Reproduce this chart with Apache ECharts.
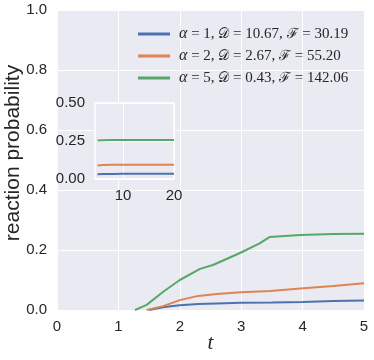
<!DOCTYPE html>
<html>
<head>
<meta charset="utf-8">
<script src="https://cdn.jsdelivr.net/npm/echarts@6/dist/echarts.min.js"></script>
<style>
  html, body { margin: 0; padding: 0; background: #fff; }
  #chart { width: 374px; height: 360px; }
</style>
</head>
<body>
<div id="chart"></div>
<script>
// main panel, t in [0, 5]
const blueT = [1.50, 1.75, 2.00, 2.30, 2.60, 3.00, 3.50, 4.00, 4.50, 5.00];
const blueV = [0.000, 0.010, 0.016, 0.020, 0.022, 0.024, 0.025, 0.027, 0.030, 0.032];
const orangeT = [1.46, 1.73, 2.00, 2.30, 2.60, 3.00, 3.47, 3.96, 4.50, 5.00];
const orangeV = [0.000, 0.013, 0.033, 0.047, 0.053, 0.059, 0.063, 0.072, 0.080, 0.089];
const greenT = [1.27, 1.46, 1.73, 2.00, 2.33, 2.54, 2.98, 3.30, 3.46, 3.96, 4.50, 5.00];
const greenV = [0.000, 0.017, 0.061, 0.100, 0.137, 0.150, 0.190, 0.222, 0.243, 0.250, 0.253, 0.254];

// inset, t in [5, 20]
const insetT = [5, 6, 8, 10, 12, 14, 16, 18, 20];
const insetBlue = [0.032, 0.033, 0.033, 0.034, 0.034, 0.034, 0.034, 0.034, 0.034];
const insetOrange = [0.089, 0.092, 0.093, 0.094, 0.094, 0.094, 0.094, 0.094, 0.094];
const insetGreen = [0.254, 0.255, 0.256, 0.256, 0.256, 0.256, 0.256, 0.256, 0.256];

const alphas = ['1', '2', '5'];
const dValues = ['10.67', '2.67', '0.43'];
const fValues = ['30.19', '55.20', '142.06'];
const labels = alphas.map((a, i) => 'a' + a + ' D' + dValues[i] + ' F' + fValues[i]);
const colors = ['#4C72B0', '#DD8452', '#55A868'];

const zip = (a, b) => a.map((x, i) => [x, b[i]]);

const sans = 'Liberation Sans, Arial, sans-serif';
const serif = 'Liberation Serif, DejaVu Serif, serif';
const tickFont = { color: '#262626', fontSize: 15, fontFamily: sans };
const white = { lineStyle: { color: '#ffffff', width: 1 } };

const chart = echarts.init(document.getElementById('chart'));
chart.setOption({
  animation: false,
  color: colors,
  legend: {
    data: labels,
    left: 133,
    top: 21,
    orient: 'vertical',
    itemWidth: 32,
    itemHeight: 3,
    itemGap: 6,
    icon: 'rect',
    formatter: name => {
      const i = labels.indexOf(name);
      return '{i|α}{n| = ' + alphas[i] + ', }{c|𝒟}{n| = ' + dValues[i] + ', }{c|ℱ}{n| = ' + fValues[i] + '}';
    },
    textStyle: {
      padding: [0, 0, 0, 4],
      rich: {
        i: { fontFamily: serif, fontStyle: 'italic', fontSize: 16, color: '#262626', lineHeight: 16 },
        n: { fontFamily: serif, fontSize: 15, color: '#262626', lineHeight: 16 },
        c: { fontFamily: 'DejaVu Serif, serif', fontSize: 14, color: '#262626', lineHeight: 16 }
      }
    }
  },
  grid: [
    { left: 57, right: 10, top: 10, bottom: 50, show: true, backgroundColor: '#EAEAF2', borderWidth: 0, outerBoundsMode: 'none' },
    { left: 95, width: 79, top: 103, height: 76, show: true, backgroundColor: '#EAEAF2', borderColor: '#ffffff', borderWidth: 1.5, z: 5, outerBoundsMode: 'none' }
  ],
  xAxis: [
    {
      gridIndex: 0, type: 'value', min: 0, max: 5, interval: 1,
      name: 't', nameLocation: 'middle', nameGap: 23, nameMoveOverlap: false,
      nameTextStyle: { fontFamily: serif, fontStyle: 'italic', fontSize: 21, color: '#262626' },
      axisLine: { show: false }, axisTick: { show: false },
      axisLabel: Object.assign({ margin: 9 }, tickFont),
      splitLine: white
    },
    {
      gridIndex: 1, type: 'value', min: 4.5, max: 20,
      axisLine: { show: false }, axisTick: { show: false, customValues: [10, 20] },
      axisLabel: Object.assign({ margin: 9, customValues: [10, 20] }, tickFont),
      splitLine: white, z: 6
    }
  ],
  yAxis: [
    {
      gridIndex: 0, type: 'value', min: 0, max: 1, interval: 0.2,
      name: 'reaction probability', nameLocation: 'middle', nameGap: 33, nameMoveOverlap: false,
      nameTextStyle: { fontFamily: sans, fontSize: 21, color: '#262626', padding: [0, 0, 0, 14] },
      axisLine: { show: false }, axisTick: { show: false },
      axisLabel: Object.assign({ margin: 10, formatter: v => v.toFixed(1) }, tickFont),
      splitLine: white
    },
    {
      gridIndex: 1, type: 'value', min: 0, max: 0.5, interval: 0.25,
      axisLine: { show: false }, axisTick: { show: false },
      axisLabel: Object.assign({ margin: 10, formatter: v => v.toFixed(2) }, tickFont),
      splitLine: white, z: 6
    }
  ],
  series: [
    { name: labels[0], type: 'line', xAxisIndex: 0, yAxisIndex: 0, data: zip(blueT, blueV), showSymbol: false, lineStyle: { width: 2 } },
    { name: labels[1], type: 'line', xAxisIndex: 0, yAxisIndex: 0, data: zip(orangeT, orangeV), showSymbol: false, lineStyle: { width: 2 } },
    { name: labels[2], type: 'line', xAxisIndex: 0, yAxisIndex: 0, data: zip(greenT, greenV), showSymbol: false, lineStyle: { width: 2 } },
    { name: labels[0], type: 'line', xAxisIndex: 1, yAxisIndex: 1, data: zip(insetT, insetBlue), showSymbol: false, lineStyle: { width: 2 }, z: 7 },
    { name: labels[1], type: 'line', xAxisIndex: 1, yAxisIndex: 1, data: zip(insetT, insetOrange), showSymbol: false, lineStyle: { width: 2 }, z: 7 },
    { name: labels[2], type: 'line', xAxisIndex: 1, yAxisIndex: 1, data: zip(insetT, insetGreen), showSymbol: false, lineStyle: { width: 2 }, z: 7 }
  ]
});
</script>
</body>
</html>
